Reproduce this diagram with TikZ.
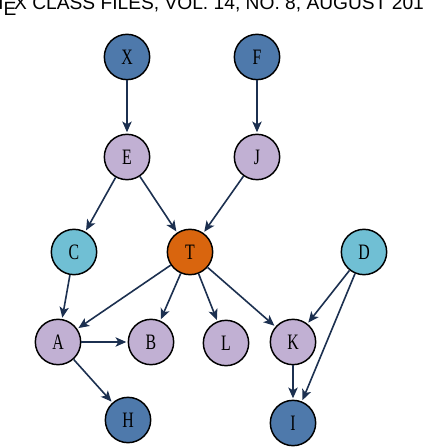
\documentclass[tikz,border=0pt]{standalone}
\usepackage{fontspec}
\setmainfont{Liberation Serif}
\newfontfamily\headfont{Liberation Sans}
\usetikzlibrary{arrows.meta}
\definecolor{nblue}{HTML}{4E79AB}
\definecolor{nlav}{HTML}{C1B0D3}
\definecolor{ncyan}{HTML}{70BFD4}
\definecolor{norange}{HTML}{D9650E}
\definecolor{edgec}{HTML}{1C3050}
\newcommand{\nlab}[1]{\scalebox{0.72}[1]{#1}}
\tikzset{
  vbase/.style={circle, draw=black, line width=1.1pt, minimum size=34pt, inner sep=0pt, font=\fontsize{16.5}{16.5}\selectfont},
  vblue/.style={vbase, fill=nblue},
  vlav/.style={vbase, fill=nlav},
  vcyan/.style={vbase, fill=ncyan},
  vorange/.style={vbase, fill=norange},
  link/.style={draw=edgec, line width=1.2pt, -{Stealth[length=8pt,width=7pt,inset=2pt]}, shorten >=1pt},
}
\begin{document}
\begin{tikzpicture}[x=0.75pt,y=-0.75pt]
\useasboundingbox (0,0) rectangle (422,448);
\clip (0,0) rectangle (422,448);
\fill[white] (0,0) rectangle (422,448);
\node[anchor=base west, inner sep=0pt, font=\headfont\fontsize{14.4}{14.4}\selectfont] (hdr) at (32,10) {\llap{\LaTeX\ }CLASS FILES, VOL. 14, NO. 8, AUGUST 2015};
\node[vblue] (X) at (127,57) {\nlab{X}};
\node[vblue] (F) at (257,57) {\nlab{F}};
\node[vlav] (E) at (127,157) {\nlab{E}};
\node[vlav] (J) at (257,157) {\nlab{J}};
\node[vcyan] (C) at (74,252) {\nlab{C}};
\node[vorange] (T) at (190,252) {\nlab{T}};
\node[vcyan] (D) at (364,252) {\nlab{D}};
\node[vlav] (A) at (58,342) {\nlab{A}};
\node[vlav] (B) at (151,342) {\nlab{B}};
\node[vlav] (L) at (226,343) {\nlab{L}};
\node[vlav] (K) at (293,342) {\nlab{K}};
\node[vblue] (H) at (128,420) {\nlab{H}};
\node[vblue] (I) at (293,423) {\nlab{I}};
\draw[link] (X) -- (E);
\draw[link] (F) -- (J);
\draw[link] (E) -- (C);
\draw[link] (E) -- (T);
\draw[link] (J) -- (T);
\draw[link] (C) -- (A);
\draw[link] (T) -- (A);
\draw[link] (T) -- (B);
\draw[link] (T) -- (L);
\draw[link] (T) -- (K);
\draw[link] (A) -- (B);
\draw[link] (A) -- (H);
\draw[link] (D) -- (K);
\draw[link] (D) -- (I);
\draw[link] (K) -- (I);
\end{tikzpicture}
\end{document}
